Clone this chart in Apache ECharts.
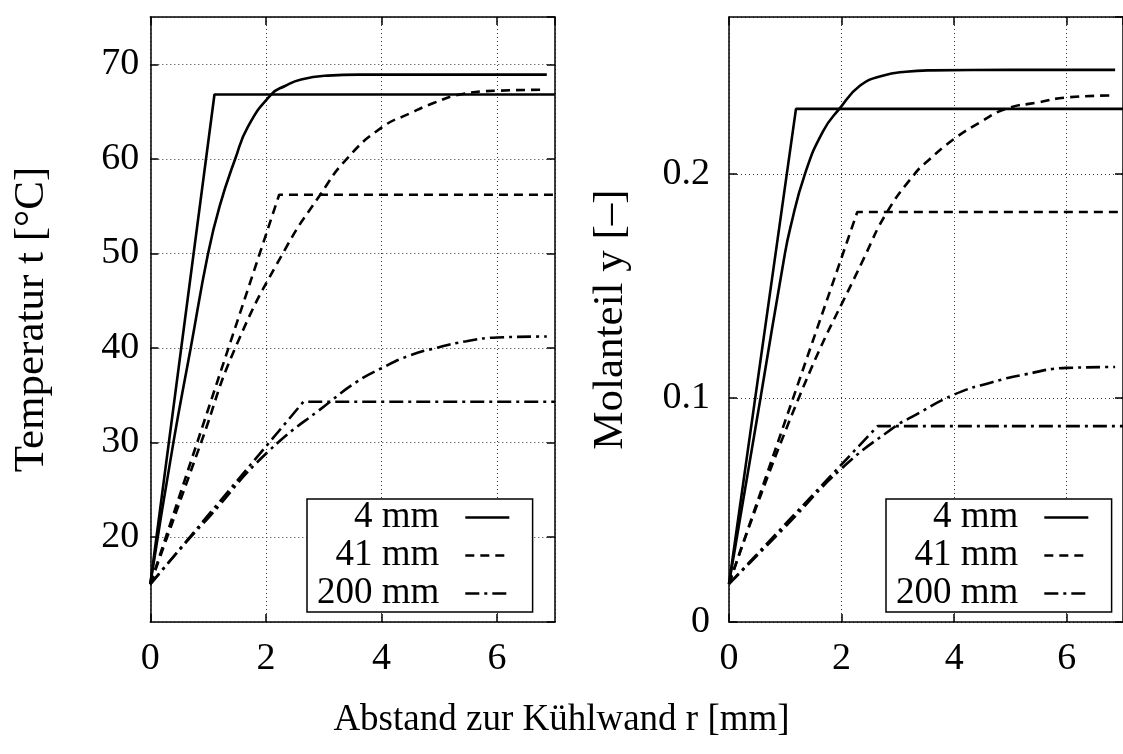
<!DOCTYPE html>
<html>
<head>
<meta charset="utf-8">
<script src="https://cdn.jsdelivr.net/npm/echarts@6/dist/echarts.min.js"></script>
<style>
  html, body { margin: 0; padding: 0; background: #fff; }
  #chart { width: 1123px; height: 754px; }
</style>
</head>
<body>
<div id="chart"></div>
<script>
// Legend entries (channel width)
const seriesNames = ['4 mm', '41 mm', '200 mm'];

// Temperatur t [°C] over Abstand r [mm]: simple model (linear + flat) and full profile
const tempLin4 = [[0, 15], [1.11, 66.8], [7, 66.8]];
const tempProf4 = [[0, 15], [0.4, 30], [0.7, 40], [1.0, 50], [1.2, 55.0], [1.47, 60], [1.69, 63.4],
  [2.09, 66.8], [2.33, 67.7], [2.61, 68.4], [3.07, 68.8], [3.6, 68.9], [5, 68.9], [6.86, 68.9]];
const tempLin41 = [[0, 15], [2.23, 56.2], [7, 56.2]];
const tempProf41 = [[0, 15], [0.88, 30], [1.47, 40], [2.33, 50.4], [2.94, 56.2], [3.4, 60], [4, 63.3],
  [4.49, 64.8], [4.9, 65.9], [5.36, 66.8], [6, 67.2], [6.84, 67.3]];
const tempLin200 = [[0, 15], [2.65, 34.3], [7, 34.3]];
const tempProf200 = [[0, 15], [0.7, 20], [1, 22], [2, 28.8], [3.11, 34.3], [3.57, 36.4], [4, 37.85],
  [4.49, 39.2], [4.95, 40], [5.47, 40.7], [6, 41.1], [6.86, 41.2]];

// Molanteil y [–] over Abstand r [mm]
const molLin4 = [[0, 0.017], [1.19, 0.229], [7, 0.229]];
const molProf4 = [[0, 0.017], [0.56, 0.1], [0.97, 0.161], [1.09, 0.176], [1.35, 0.2], [1.67, 0.219],
  [1.96, 0.229], [2.33, 0.2394], [2.73, 0.2438], [3.14, 0.2456], [3.6, 0.2462], [5, 0.2464], [6.86, 0.2464]];
const molLin41 = [[0, 0.017], [2.28, 0.183], [7, 0.183]];
const molProf41 = [[0, 0.017], [1.24, 0.1], [2.4, 0.1625], [2.81, 0.183], [3.3, 0.2], [3.54, 0.206],
  [4, 0.2156], [4.46, 0.223], [4.92, 0.229], [5.5, 0.2319], [6, 0.2341], [6.86, 0.235]];
const molLin200 = [[0, 0.017], [2.64, 0.0874], [7, 0.0874]];
const molProf200 = [[0, 0.017], [1, 0.0425], [2, 0.0685], [2.96, 0.0874], [3.25, 0.0915], [4, 0.1015],
  [4.69, 0.1071], [5.26, 0.1105], [6, 0.1134], [6.86, 0.1138]];

// Axis ranges and tick steps
const xRange = [0, 7];
const xStep = 2;
const tempRange = [11, 75];
const molRange = [0, 0.27];

const FONT = "'Liberation Serif', 'Times New Roman', serif";
const BLACK = '#000';
const DASHES = ['solid', [9, 6], [14, 5, 3, 5]];
const LW = 2.6;

const chart = echarts.init(document.getElementById('chart'), null, { renderer: 'canvas' });

const frameLine = { show: true, onZero: false, lineStyle: { color: BLACK, width: 1.5 } };
const tickIn = { show: true, inside: true, length: 8, lineStyle: { color: BLACK, width: 1.5 } };
const gridDots = { show: true, lineStyle: { color: '#333', width: 1, type: [1, 3] } };
const tickFont = { fontFamily: FONT, fontSize: 38, color: BLACK };

function xAxes(gridIndex) {
  return [
    {
      type: 'value', gridIndex, position: 'bottom', min: xRange[0], max: xRange[1], interval: xStep,
      axisLine: frameLine, axisTick: tickIn, splitLine: gridDots,
      axisLabel: Object.assign({ margin: 18, showMaxLabel: false }, tickFont)
    },
    {
      type: 'value', gridIndex, position: 'top', min: xRange[0], max: xRange[1], interval: xStep,
      axisLine: frameLine, axisTick: tickIn, splitLine: { show: false }, axisLabel: { show: false }
    }
  ];
}

function yAxes(gridIndex, range, splitNumber, name, labelGap) {
  return [
    {
      type: 'value', gridIndex, position: 'left', min: range[0], max: range[1], splitNumber,
      axisLine: frameLine, axisTick: tickIn, splitLine: gridDots,
      axisLabel: Object.assign({ margin: labelGap, showMinLabel: range[0] === 0, showMaxLabel: false }, tickFont),
      name, nameLocation: 'middle', nameGap: 97,
      nameTextStyle: { fontFamily: FONT, fontSize: 43, color: BLACK }
    },
    {
      type: 'value', gridIndex, position: 'right', min: range[0], max: range[1], splitNumber,
      axisLine: frameLine, axisTick: tickIn, splitLine: { show: false }, axisLabel: { show: false }
    }
  ];
}

function line(name, data, axisIndex, dashIndex, smooth) {
  return {
    type: 'line', name, data,
    xAxisIndex: axisIndex, yAxisIndex: axisIndex,
    symbol: 'none', smooth: smooth ? 0.5 : false,
    lineStyle: { color: BLACK, width: LW, type: DASHES[dashIndex] },
    itemStyle: { color: BLACK },
    animation: false, z: 3
  };
}

const tempSets = [[tempLin4, tempProf4], [tempLin41, tempProf41], [tempLin200, tempProf200]];
const molSets = [[molLin4, molProf4], [molLin41, molProf41], [molLin200, molProf200]];

const series = [];
seriesNames.forEach((n, i) => {
  series.push(line(n, tempSets[i][0], 0, i, false));
  series.push(line(n, tempSets[i][1], 0, i, true));
});
seriesNames.forEach((n, i) => {
  series.push(line(n, molSets[i][0], 2, i, false));
  series.push(line(n, molSets[i][1], 2, i, true));
});

function legendAt(left) {
  return {
    data: seriesNames, orient: 'vertical', left, top: 499, align: 'right',
    itemWidth: 44, itemHeight: 16, itemGap: 1, padding: [0, 22, 0, 10],
    borderColor: BLACK, borderWidth: 1.5, backgroundColor: '#fff', borderRadius: 0,
    selectedMode: false,
    lineStyle: { width: LW },
    itemStyle: { color: 'rgba(0,0,0,0)', borderWidth: 0, opacity: 0 },
    textStyle: { fontFamily: FONT, fontSize: 37, lineHeight: 36, color: BLACK, padding: [0, 21, 0, 0] }
  };
}

chart.setOption({
  backgroundColor: '#fff',
  animation: false,
  title: {
    text: 'Abstand zur Kühlwand r [mm]', left: 'center', top: 697,
    textStyle: { fontFamily: FONT, fontSize: 37, fontWeight: 'normal', color: BLACK }
  },
  grid: [
    { left: 150.3, top: 17, width: 404.6, height: 605, containLabel: false },
    { left: 729, top: 17, width: 404.6, height: 605, containLabel: false }
  ],
  xAxis: xAxes(0).concat(xAxes(1)),
  yAxis: yAxes(0, tempRange, 6, 'Temperatur t [°C]', 11).concat(yAxes(1, molRange, 3, 'Molanteil y [–]', 19)),
  legend: [legendAt(307), legendAt(886)],
  series
});
</script>
</body>
</html>
